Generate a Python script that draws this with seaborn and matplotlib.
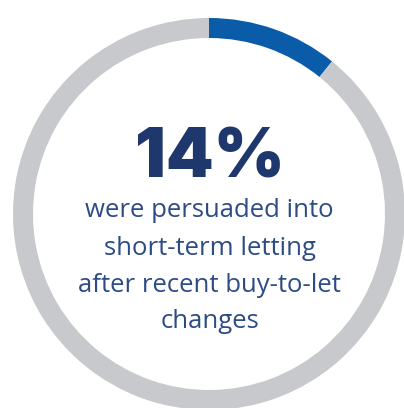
import matplotlib
matplotlib.use("Agg")
import matplotlib.pyplot as plt
import seaborn as sns

# ---- data ----
segments = ["persuaded", "other"]
arc_share = [10.8, 89.2]          # visual share of the ring (blue arc ~39 deg)
headline = "14%"
caption_lines = ["were persuaded into", "short-term letting",
                 "after recent buy-to-let", "changes"]
seg_colors = ["#0a5ba8", "#c8c9cc"]

sns.set_theme(style="white")
plt.rcParams["font.family"] = ["Open Sans", "DejaVu Sans"]

W, H = 404, 408
fig = plt.figure(figsize=(W / 100, H / 100), dpi=100)
ax = fig.add_axes([0, 0, 1, 1])

cx, cy = 209, H - 214
R, ring_w = 196, 20
ax.pie(arc_share, colors=seg_colors, startangle=90, counterclock=False,
       center=(cx, cy), radius=R, frame=True,
       wedgeprops=dict(width=ring_w, linewidth=0, edgecolor="none"))
ax.set_xlim(0, W)
ax.set_ylim(0, H)
ax.set_aspect("equal")
ax.axis("off")

renderer = fig.canvas.get_renderer()


def fit_text(x, y, s, target_w, **kw):
    t = ax.text(x, y, s, ha="center", va="baseline", fontsize=20, **kw)
    w = t.get_window_extent(renderer).width
    t.set_fontsize(20 * target_w / w)
    return t


fit_text(209.5, H - 178, headline, 150, family=["Inter", "DejaVu Sans"],
         fontweight=900, color="#1e386e")

baselines = [217, 255, 292, 328]
widths = [248, 215, 265, 102]
size = None
for s, b, w in zip(caption_lines, baselines, widths):
    t = ax.text(209.5, H - b, s, ha="center", va="baseline", fontsize=20,
                color="#2d4b85")
    if size is None:
        ww = t.get_window_extent(renderer).width
        size = 20 * w / ww
    t.set_fontsize(size)

fig.savefig("out.png", dpi=100, facecolor="white")
